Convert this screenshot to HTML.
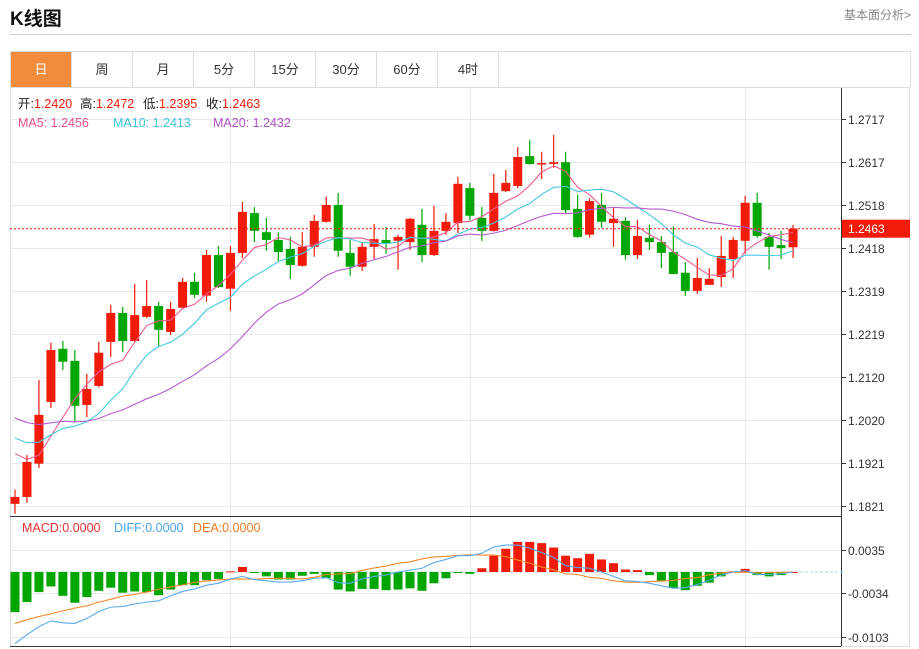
<!DOCTYPE html>
<html><head><meta charset="utf-8">
<style>
body{margin:0;background:#fff;font-family:"Liberation Sans","Noto Sans CJK SC",sans-serif;}
#wrap{position:relative;width:919px;height:649px;overflow:hidden;}
.title{position:absolute;left:10px;top:4px;font-size:19px;font-weight:bold;color:#111;}
.more{position:absolute;right:8px;top:6px;font-size:12px;color:#888;}
.hr{position:absolute;left:10px;top:34px;width:901px;height:1px;background:#ccc;}
.tabs{position:absolute;left:10px;top:51px;width:899px;height:36px;border:1px solid #ddd;border-bottom:none;}
.tab{position:absolute;top:0;height:36px;width:61px;line-height:36px;text-align:center;font-size:13px;color:#333;border-right:1px solid #ddd;box-sizing:border-box;}
.tab.on{background:#f28c3c;color:#fff;}
svg{position:absolute;left:0;top:0;}
</style></head><body>
<div id="wrap">
<div class="title">K线图</div>
<div class="more">基本面分析&gt;</div>
<div class="hr"></div>
<div class="tabs">
<div class="tab on" style="left:0">日</div>
<div class="tab" style="left:61px">周</div>
<div class="tab" style="left:122px">月</div>
<div class="tab" style="left:183px">5分</div>
<div class="tab" style="left:244px">15分</div>
<div class="tab" style="left:305px">30分</div>
<div class="tab" style="left:366px">60分</div>
<div class="tab" style="left:427px">4时</div>
</div>
<svg id="chart" width="919" height="649"></svg>
</div>
<script>
const opens=[1.1826,1.1842,1.1919,1.2062,1.2185,1.2157,1.2055,1.2099,1.2201,1.2268,1.2203,1.2259,1.2284,1.2224,1.2280,1.2340,1.2308,1.2402,1.2324,1.2407,1.2499,1.2455,1.2437,1.2416,1.2377,1.2421,1.2479,1.2518,1.2407,1.2375,1.2421,1.2437,1.2435,1.2432,1.2472,1.2402,1.2458,1.2476,1.2557,1.2488,1.2458,1.2550,1.2562,1.2631,1.2613,1.2613,1.2617,1.2509,1.2449,1.2518,1.2476,1.2481,1.2402,1.2442,1.2432,1.2409,1.2361,1.2319,1.2333,1.2351,1.2393,1.2435,1.2523,1.2444,1.2425,1.2420];
const highs=[1.1859,1.1939,1.2113,1.2199,1.2203,1.2182,1.2127,1.2201,1.2287,1.2282,1.2335,1.2344,1.2294,1.2294,1.2349,1.2361,1.2414,1.2423,1.2423,1.2525,1.2513,1.2488,1.2455,1.2444,1.2455,1.2495,1.2537,1.2546,1.2437,1.2430,1.2474,1.2467,1.2449,1.2488,1.2509,1.2516,1.2499,1.2583,1.2569,1.2513,1.2590,1.2599,1.2652,1.2668,1.2641,1.2680,1.2641,1.2541,1.2534,1.2546,1.2511,1.2490,1.2483,1.2472,1.2446,1.2469,1.2386,1.2395,1.2372,1.2446,1.2444,1.2539,1.2546,1.2453,1.2458,1.2472];
const lows=[1.1803,1.1828,1.1909,1.2048,1.2136,1.2014,1.2027,1.2096,1.2166,1.2178,1.2200,1.2256,1.2192,1.2217,1.2277,1.2303,1.2294,1.2326,1.2273,1.2395,1.2432,1.2412,1.2388,1.2347,1.2375,1.2398,1.2477,1.2398,1.2354,1.2365,1.2393,1.2405,1.2368,1.2414,1.2386,1.2400,1.2449,1.2453,1.2483,1.2435,1.2456,1.2548,1.2557,1.2611,1.2578,1.2604,1.2497,1.2442,1.2442,1.2465,1.2421,1.2391,1.2393,1.2414,1.2372,1.2358,1.2307,1.2312,1.2333,1.2328,1.2349,1.2405,1.2442,1.2368,1.2393,1.2395];
const closes=[1.1842,1.1923,1.2032,1.2182,1.2155,1.2053,1.2092,1.2176,1.2268,1.2203,1.2263,1.2284,1.2229,1.2277,1.2340,1.2310,1.2402,1.2328,1.2407,1.2502,1.2458,1.2437,1.2409,1.2379,1.2421,1.2481,1.2518,1.2412,1.2375,1.2421,1.2439,1.2430,1.2444,1.2486,1.2402,1.2458,1.2479,1.2567,1.2493,1.2458,1.2546,1.2569,1.2629,1.2613,1.2615,1.2617,1.2506,1.2444,1.2527,1.2479,1.2486,1.2402,1.2446,1.2432,1.2407,1.2358,1.2319,1.2349,1.2347,1.2400,1.2437,1.2523,1.2446,1.2421,1.2418,1.2463];
const priorCloses=[1.2135,1.2120,1.2100,1.2090,1.2075,1.2065,1.2050,1.2040,1.2030,1.2005,1.2030,1.2020,1.2010,1.2005,1.2005,1.1990,1.1985,1.1960,1.1935];
const macdHist=[-0.0064,-0.0048,-0.0032,-0.0023,-0.0038,-0.0049,-0.0040,-0.0030,-0.0025,-0.0033,-0.0031,-0.0032,-0.0037,-0.0028,-0.0021,-0.0021,-0.0013,-0.0011,0.0001,0.0008,-0.0001,-0.0007,-0.0012,-0.0012,-0.0006,-0.0003,-0.0010,-0.0028,-0.0031,-0.0027,-0.0027,-0.0029,-0.0028,-0.0026,-0.0030,-0.0018,-0.0010,-0.0001,-0.0003,0.0006,0.0026,0.0037,0.0048,0.0048,0.0046,0.0039,0.0026,0.0022,0.0029,0.0020,0.0014,0.0004,0.0003,-0.0005,-0.0015,-0.0025,-0.0029,-0.0022,-0.0017,-0.0007,0.0001,0.0005,-0.0005,-0.0007,-0.0005,0.0000];
const diffVals=[-0.0114,-0.0100,-0.0087,-0.0078,-0.0081,-0.0082,-0.0074,-0.0063,-0.0056,-0.0055,-0.0051,-0.0048,-0.0046,-0.0038,-0.0031,-0.0027,-0.0021,-0.0018,-0.0011,-0.0007,-0.0012,-0.0014,-0.0016,-0.0016,-0.0014,-0.0010,-0.0009,-0.0017,-0.0018,-0.0011,-0.0007,-0.0005,0.0000,0.0003,0.0006,0.0015,0.0020,0.0026,0.0026,0.0030,0.0040,0.0043,0.0043,0.0038,0.0031,0.0023,0.0010,0.0007,0.0006,0.0000,-0.0007,-0.0014,-0.0015,-0.0018,-0.0022,-0.0026,-0.0025,-0.0020,-0.0013,-0.0005,0.0000,0.0002,-0.0004,-0.0004,-0.0003,0.0000];
const priceTicks=[1.2717,1.2617,1.2518,1.2418,1.2319,1.2219,1.2120,1.2020,1.1921,1.1821];
const macdTicks=[0.0035,-0.0034,-0.0103];
const monthBreaks=[18,38,61];

const NS='http://www.w3.org/2000/svg';
const svg=document.getElementById('chart');
function mk(tag,attrs,parent){const e=document.createElementNS(NS,tag);for(const k in attrs)e.setAttribute(k,attrs[k]);(parent||svg).appendChild(e);return e;}
const L=10,R=841;
const xOf=i=>15+i*11.97;
const yP=p=>506-(p-1.1821)*(387/0.0896);
const yM=v=>572-v/0.0001594;
const RED='#f21a08',GREEN='#00a600';

// frame
const frame=mk('rect',{x:10.5,y:87.5,width:899,height:559,fill:'none',stroke:'#ddd'});


// grid
priceTicks.forEach(t=>{const y=Math.round(yP(t))+0.5;
 const g=mk('line',{x1:L,x2:R,y1:y,y2:y,stroke:'#e3eaf0'});
 
 
 mk('line',{x1:R,x2:R+5,y1:y,y2:y,stroke:'#333'});
 const tx=mk('text',{x:848,y:y+4.5,'font-size':12,fill:'#333'});tx.textContent=t.toFixed(4);
 
 
});
macdTicks.forEach(t=>{const y=Math.round(yM(t))+0.5;
 const g=mk('line',{x1:L,x2:R,y1:y,y2:y,stroke:'#e3eaf0'});
 
 
 mk('line',{x1:R,x2:R+5,y1:y,y2:y,stroke:'#333'});
 const tx=mk('text',{x:848,y:y+4.5,'font-size':12,fill:'#333'});tx.textContent=(t>0?' ':'')+t.toFixed(4);
 
 
});
monthBreaks.forEach(i=>{const x=Math.round(xOf(i))+0.5;
 const g=mk('line',{x1:x,x2:x,y1:88,y2:646,stroke:'#e3eaf0'});
 
 
});
// axes
const ax=mk('line',{x1:R+0.5,x2:R+0.5,y1:88,y2:646,stroke:'#333'});


const sep=mk('line',{x1:L,x2:R,y1:516.5,y2:516.5,stroke:'#333'});


mk('line',{x1:L,x2:R,y1:646.5,y2:646.5,stroke:'#333'});

// candles
closes.forEach((c,i)=>{const o=opens[i],x=xOf(i),up=c>=o,col=up?RED:GREEN;
 const g=mk('g',{});
 
 
 mk('line',{x1:x,x2:x,y1:yP(highs[i]),y2:yP(lows[i]),stroke:col,'stroke-width':1.2},g);
 const t=yP(Math.max(o,c)),b=yP(Math.min(o,c));
 mk('rect',{x:x-4.5,y:t,width:9,height:Math.max(1.5,b-t),fill:col},g);
});
// MAs
const all=priorCloses.concat(closes),off=priorCloses.length;
function ma(n){return closes.map((c,i)=>{let s=0;for(let k=0;k<n;k++)s+=all[off+i-k];return s/n;});}
[[5,'#ee5a8e','ma5-line'],[10,'#45c8e0','ma10-line'],[20,'#b35bd0','ma20-line']].forEach(([n,col,name])=>{
 const v=ma(n);const p=mk('polyline',{points:v.map((m,i)=>xOf(i)+','+yP(m)).join(' '),fill:'none',stroke:col,'stroke-width':1.1});
 
 
});
// last price
const last=closes[closes.length-1],ly=yP(last);
const pl=mk('line',{x1:L,x2:R,y1:ly,y2:ly,stroke:RED,'stroke-dasharray':'2,2'});


const pb=mk('rect',{x:842,y:ly-9,width:68,height:18,fill:RED});


const pt=mk('text',{x:848,y:ly+4.5,'font-size':12,fill:'#fff'});pt.textContent=last.toFixed(4);

// MACD
const z=yM(0);
const zl=mk('line',{x1:L,x2:R+2,y1:z,y2:z,stroke:'#a8d8ea','stroke-dasharray':'3,2'});


macdHist.forEach((h,i)=>{const x=xOf(i),y=yM(h);
 const r=mk('rect',{x:x-4.5,y:Math.min(y,z),width:9,height:Math.max(1,Math.abs(y-z)),fill:h>=0?RED:GREEN});
 
 
});
const deaVals=diffVals.map((d,i)=>d-macdHist[i]/2);
const dl=mk('polyline',{points:deaVals.map((v,i)=>xOf(i)+','+yM(v)).join(' '),fill:'none',stroke:'#f58a2c','stroke-width':1.1});


const fl=mk('polyline',{points:diffVals.map((v,i)=>xOf(i)+','+yM(v)).join(' '),fill:'none',stroke:'#5aaaf0','stroke-width':1.1});



// legends
function txt(x,y,s,col,name){const t=mk('text',{x:x,y:y,'font-size':12.5,fill:col});t.textContent=s;
 
 return t;}
const info=[['开:',18],['1.2420',34,1],['高:',80],['1.2472',96,1],['低:',143],['1.2395',159,1],['收:',206],['1.2463',222,1]];
info.forEach(([s,x,r])=>txt(x,108,s,r?RED:'#222','ohlc-legend'));
txt(18,127,'MA5: 1.2456','#e8508a','ma5-legend');
txt(113,127,'MA10: 1.2413','#3cc5dc','ma10-legend');
txt(213,127,'MA20: 1.2432','#b050c8','ma20-legend');
txt(22,532,'MACD:0.0000','#f03030','macd-legend');
txt(114,532,'DIFF:0.0000','#4aa3f0','diff-legend');
txt(193,532,'DEA:0.0000','#f07a20','dea-legend');
</script>
</body></html>
